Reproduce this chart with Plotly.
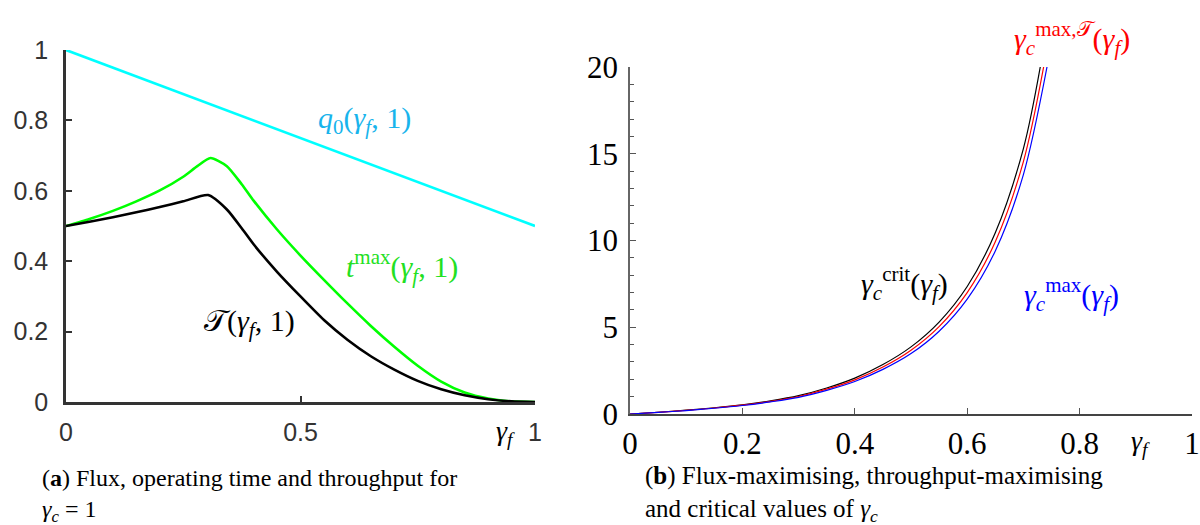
import plotly.graph_objects as go

# ---------------- Data: panel (a) ----------------
gf_q0 = [0.0, 1.0]
q0_vals = [1.0, 0.5]

gf_tmax = [0.0, 0.05, 0.1, 0.15, 0.2, 0.25, 0.28, 0.308, 0.343, 0.375, 0.4, 0.45, 0.5, 0.55, 0.6, 0.65, 0.7, 0.75, 0.8, 0.85, 0.9, 0.95, 1.0]
tmax_vals = [0.50, 0.52, 0.543, 0.570, 0.601, 0.640, 0.670, 0.693, 0.670, 0.618, 0.572, 0.490, 0.416, 0.347, 0.280, 0.216, 0.157, 0.103, 0.058, 0.027, 0.010, 0.002, 0.0]

gf_T = [0.0, 0.05, 0.1, 0.15, 0.2, 0.25, 0.303, 0.343, 0.375, 0.4, 0.45, 0.5, 0.55, 0.6, 0.65, 0.7, 0.75, 0.8, 0.85, 0.9, 0.95, 1.0]
T_vals = [0.50, 0.512, 0.525, 0.539, 0.554, 0.570, 0.588, 0.547, 0.493, 0.448, 0.370, 0.300, 0.233, 0.177, 0.130, 0.092, 0.060, 0.036, 0.019, 0.008, 0.002, 0.0]

# ---------------- Data: panel (b) ----------------
gf_crit = [0.0, 0.05, 0.1, 0.15, 0.2, 0.25, 0.3, 0.35, 0.4, 0.45, 0.5, 0.55, 0.6, 0.65, 0.7, 0.73]
crit_vals = [0.0, 0.10, 0.22, 0.36, 0.53, 0.76, 1.06, 1.50, 2.07, 2.85, 3.87, 5.30, 7.35, 10.45, 15.3, 20.0]

gf_maxT = [0.0, 0.05, 0.1, 0.15, 0.2, 0.25, 0.3, 0.35, 0.4, 0.45, 0.5, 0.55, 0.6, 0.65, 0.7, 0.736]
maxT_vals = [0.0, 0.095, 0.21, 0.345, 0.51, 0.73, 1.01, 1.43, 1.97, 2.71, 3.68, 5.04, 7.0, 9.93, 14.55, 20.0]

gf_max = [0.0, 0.05, 0.1, 0.15, 0.2, 0.25, 0.3, 0.35, 0.4, 0.45, 0.5, 0.55, 0.6, 0.65, 0.7, 0.742]
max_vals = [0.0, 0.09, 0.20, 0.33, 0.49, 0.70, 0.96, 1.36, 1.87, 2.57, 3.48, 4.77, 6.62, 9.4, 13.8, 20.0]

left_xticks = [0, 0.5, 1]
left_xlabels = ["0", "0.5", "1"]
left_yticks = [0, 0.2, 0.4, 0.6, 0.8, 1]
left_ylabels = ["0", "0.2", "0.4", "0.6", "0.8", "1"]
right_xticks = [0, 0.2, 0.4, 0.6, 0.8, 1]
right_xlabels = ["0", "0.2", "0.4", "0.6", "0.8", "1"]
right_yticks = [0, 5, 10, 15, 20]
right_ylabels = ["0", "5", "10", "15", "20"]

W, H = 1200, 525
SANS = "Liberation Sans, Arial, sans-serif"
SERIF = "Liberation Serif, Times New Roman, serif"
CALT = "𝒯"

fig = go.Figure()

def add_line(x, y, color, width, xa, ya, smoothing=0.6):
    fig.add_trace(go.Scatter(x=x, y=y, mode="lines",
                             line=dict(color=color, width=width, shape="spline", smoothing=smoothing),
                             xaxis=xa, yaxis=ya, showlegend=False, hoverinfo="skip", cliponaxis=False))

add_line(gf_q0, q0_vals, "#00ffff", 2.6, "x", "y")
add_line(gf_tmax, tmax_vals, "#00ff00", 2.6, "x", "y")
add_line(gf_T, T_vals, "#000000", 2.6, "x", "y")

add_line(gf_crit, crit_vals, "#000000", 1.2, "x2", "y2", 0.9)
add_line(gf_maxT, maxT_vals, "#ff0000", 1.2, "x2", "y2", 0.9)
add_line(gf_max, max_vals, "#0000ff", 1.2, "x2", "y2", 0.9)

fig.update_layout(
    width=W, height=H,
    margin=dict(l=0, r=0, t=0, b=0, autoexpand=False),
    paper_bgcolor="white", plot_bgcolor="white",
    xaxis=dict(domain=[66 / W, 535 / W], range=[0, 1], anchor="y", automargin=False,
               tickvals=left_xticks, ticktext=left_xlabels, ticks="inside", ticklen=6, tickwidth=2,
               tickcolor="#333", showline=True, linecolor="#333", linewidth=2.5, showgrid=False, zeroline=False,
               tickfont=dict(family=SANS, size=25, color="#333"), ticklabelstandoff=6),
    yaxis=dict(domain=[1 - 402 / H, 1 - 50 / H], range=[0, 1], anchor="x", automargin=False,
               tickvals=left_yticks, ticktext=left_ylabels, ticks="inside", ticklen=6, tickwidth=2,
               tickcolor="#333", showline=True, linecolor="#333", linewidth=2.5, showgrid=False, zeroline=False,
               tickfont=dict(family=SANS, size=25, color="#333"), ticklabelstandoff=10),
    xaxis2=dict(domain=[630 / W, 1192 / W], range=[0, 1], anchor="y2", automargin=False,
                tickvals=right_xticks, ticktext=right_xlabels, ticks="inside", ticklen=6, tickwidth=1.2,
                tickcolor="#555", showline=True, linecolor="#444", linewidth=1.5, showgrid=False, zeroline=False,
                tickfont=dict(family=SERIF, size=31, color="#000"), ticklabelstandoff=1),
    yaxis2=dict(domain=[1 - 414 / H, 1 - 67 / H], range=[0, 20], anchor="x2", automargin=False,
                tickvals=right_yticks, ticktext=right_ylabels, ticks="inside", ticklen=6, tickwidth=1.2,
                tickcolor="#555", showline=True, linecolor="#666", linewidth=1.5, showgrid=False, zeroline=False,
                minor=dict(tickvals=list(range(0, 21)), ticks="inside", ticklen=4, tickcolor="#555", tickwidth=1),
                tickfont=dict(family=SERIF, size=31, color="#000"), ticklabelstandoff=4),
)

def ann(text, x, y, color, size=30, xref="x", yref="y", xanchor="center", family=SERIF, align="center"):
    fig.add_annotation(text=text, x=x, y=y, xref=xref, yref=yref, showarrow=False, align=align,
                       xanchor=xanchor, yanchor="middle", font=dict(family=family, size=size, color=color))

def px(X, Y):
    return X / W, 1 - Y / H

# panel (a) labels
ann("<i>q</i><sub>0</sub>(<i>γ<sub>f</sub></i>, 1)", 0.637, 0.80, "#18b4ec")
ann("<i>t</i><sup>max</sup>(<i>γ<sub>f</sub></i>, 1)", 0.716, 0.385, "#22e022")
ann(CALT + "(<i>γ<sub>f</sub></i>, 1)", 0.392, 0.225, "#000000")
gx, gy = px(505, 432)
ann("<i>γ<sub>f</sub></i>", gx, gy, "#000000", size=28, xref="paper", yref="paper")

# panel (b) labels
rx, ry = px(1072, 38)
ann("<i>γ<sub>c</sub></i><sup>max," + CALT + "</sup>(<i>γ<sub>f</sub></i>)", rx, ry, "#ff0000", xref="paper", yref="paper")
ann("<i>γ<sub>c</sub></i><sup>crit</sup>(<i>γ<sub>f</sub></i>)", 0.489, 7.55, "#000000", xref="x2", yref="y2")
ann("<i>γ<sub>c</sub></i><sup>max</sup>(<i>γ<sub>f</sub></i>)", 0.785, 6.86, "#0000ff", xref="x2", yref="y2")
gx2, gy2 = px(1140, 442)
ann("<i>γ<sub>f</sub></i>", gx2, gy2, "#000000", size=28, xref="paper", yref="paper")

# captions
cx, cy = px(40, 478)
ann("(<b>a</b>) Flux, operating time and throughput for", cx, cy, "#000", size=24, xref="paper", yref="paper", xanchor="left")
cx, cy = px(40, 511)
ann("<i>γ<sub>c</sub></i> = 1", cx, cy, "#000", size=24, xref="paper", yref="paper", xanchor="left")
cx, cy = px(643, 494)
ann("(<b>b</b>) Flux-maximising, throughput-maximising<br>and critical values of <i>γ<sub>c</sub></i>",
    cx, cy, "#000", size=25, xref="paper", yref="paper", xanchor="left", align="left")

fig.write_html("out.html")
